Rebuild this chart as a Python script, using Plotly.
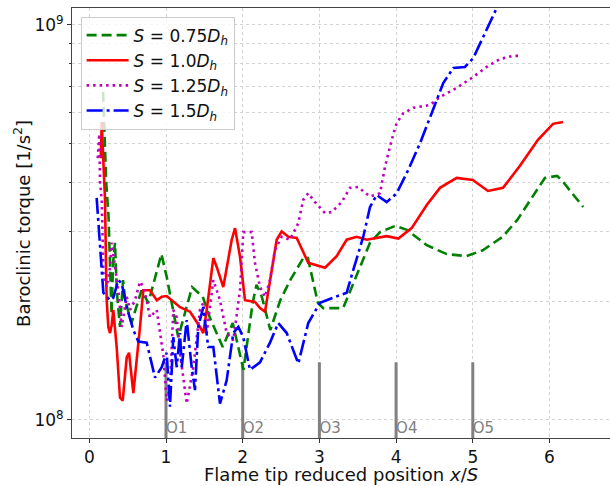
import plotly.graph_objects as go

# ---------------- data ----------------
# S = 0.75 D_h
x_075 = [0.18, 0.22, 0.25, 0.27, 0.29, 0.31, 0.335, 0.36, 0.38, 0.40, 0.44, 0.47, 0.55, 0.68, 0.77,
         0.94, 1.01, 1.12, 1.16, 1.34, 1.48, 1.57, 1.74, 1.87, 2.01, 2.13, 2.18, 2.25, 2.36, 2.49,
         2.62, 2.79, 2.85, 2.98, 3.05, 3.31, 3.46, 3.66, 3.79, 3.99, 4.14, 4.40, 4.66, 4.92, 5.13,
         5.39, 5.58, 5.75, 5.94, 6.10, 6.18, 6.44]
y_075 = [6.77e8, 4.0e8, 3.3e8, 2.3e8, 1.85e8, 2.5e8, 2.81e8, 2.1e8, 1.93e8, 1.72e8, 2.26e8, 2.0e8,
         1.76e8, 2.13e8, 1.98e8, 2.63e8, 2.3e8, 1.76e8, 1.62e8, 2.17e8, 2.05e8, 1.82e8, 1.53e8,
         1.76e8, 1.34e8, 1.98e8, 2.2e8, 2.05e8, 1.69e8, 2.01e8, 2.26e8, 2.57e8, 2.57e8, 1.98e8,
         1.92e8, 1.92e8, 2.26e8, 2.81e8, 2.99e8, 3.10e8, 3.03e8, 2.77e8, 2.63e8, 2.60e8, 2.69e8,
         2.91e8, 3.21e8, 3.61e8, 4.10e8, 4.15e8, 4.0e8, 3.46e8]

# S = 1.0 D_h
x_100 = [0.15, 0.162, 0.19, 0.205, 0.218, 0.227, 0.248, 0.27, 0.292, 0.313, 0.357, 0.40, 0.435,
         0.488, 0.518, 0.574, 0.661, 0.704, 0.79, 0.88, 0.944, 1.009, 1.183, 1.313, 1.443, 1.486,
         1.531, 1.617, 1.661, 1.747, 1.857, 1.90, 1.965, 2.03, 2.16, 2.226, 2.291, 2.443, 2.508,
         2.595, 2.704, 2.855, 3.073, 3.225, 3.356, 3.486, 3.617, 3.747, 3.877, 4.029, 4.203, 4.40,
         4.572, 4.79, 5.0, 5.198, 5.394, 5.615, 5.85, 6.046, 6.176]
y_100 = [4.6e8, 5.68e8, 4.2e8, 3.61e8, 2.44e8, 2.01e8, 1.72e8, 1.66e8, 1.74e8, 1.90e8, 1.53e8,
         1.14e8, 1.12e8, 1.44e8, 1.48e8, 1.17e8, 1.72e8, 2.13e8, 2.13e8, 2.01e8, 2.05e8, 2.06e8,
         1.93e8, 1.88e8, 1.72e8, 1.66e8, 1.90e8, 2.57e8, 2.44e8, 2.17e8, 2.86e8, 3.06e8, 2.59e8,
         2.01e8, 1.99e8, 1.92e8, 1.88e8, 2.86e8, 3.0e8, 2.91e8, 2.89e8, 2.50e8, 2.43e8, 2.60e8,
         2.86e8, 2.91e8, 2.86e8, 2.89e8, 2.92e8, 2.88e8, 3.06e8, 3.50e8, 3.87e8, 4.10e8, 4.05e8,
         3.80e8, 3.87e8, 4.40e8, 5.12e8, 5.62e8, 5.68e8]

# S = 1.25 D_h
x_125 = [0.11, 0.13, 0.14, 0.162, 0.175, 0.183, 0.227, 0.27, 0.292, 0.335, 0.378, 0.422, 0.488,
         0.531, 0.596, 0.661, 0.704, 0.748, 0.79, 0.879, 0.922, 0.965, 1.009, 1.052, 1.095, 1.14,
         1.183, 1.27, 1.356, 1.443, 1.486, 1.531, 1.617, 1.704, 1.791, 1.877, 1.965, 2.008, 2.052,
         2.117, 2.16, 2.226, 2.291, 2.356, 2.42, 2.508, 2.617, 2.725, 2.79, 2.855, 2.943, 3.073,
         3.16, 3.291, 3.399, 3.503, 3.66, 3.79, 3.855, 3.943, 4.008, 4.094, 4.224, 4.442, 4.572,
         4.79, 5.003, 5.181, 5.355, 5.524, 5.615]
y_125 = [4.6e8, 5.3e8, 4.0e8, 3.61e8, 2.81e8, 2.36e8, 2.17e8, 2.44e8, 2.81e8, 2.44e8, 2.13e8,
         1.72e8, 2.05e8, 1.90e8, 2.01e8, 2.24e8, 2.17e8, 2.01e8, 1.82e8, 1.90e8, 1.66e8, 1.46e8,
         1.12e8, 1.21e8, 1.90e8, 1.82e8, 1.48e8, 1.10e8, 1.36e8, 1.90e8, 1.98e8, 1.66e8, 2.26e8,
         2.01e8, 1.66e8, 1.59e8, 2.13e8, 2.99e8, 2.99e8, 2.99e8, 2.50e8, 2.17e8, 2.05e8, 2.26e8,
         2.69e8, 2.91e8, 2.86e8, 3.15e8, 3.61e8, 3.75e8, 3.56e8, 3.34e8, 3.36e8, 3.56e8, 3.87e8,
         3.89e8, 3.68e8, 3.75e8, 4.37e8, 5.12e8, 5.65e8, 5.98e8, 6.17e8, 6.27e8, 6.57e8, 6.93e8,
         7.38e8, 7.83e8, 8.2e8, 8.35e8, 8.35e8]

# S = 1.5 D_h
x_150 = [0.096, 0.162, 0.183, 0.27, 0.313, 0.378, 0.422, 0.488, 0.574, 0.639, 0.748, 0.857, 0.944,
         1.009, 1.052, 1.095, 1.14, 1.183, 1.205, 1.27, 1.335, 1.378, 1.421, 1.486, 1.551, 1.617,
         1.704, 1.791, 1.877, 1.943, 2.008, 2.095, 2.226, 2.356, 2.464, 2.574, 2.725, 2.855, 3.008,
         3.181, 3.356, 3.442, 3.572, 3.66, 3.747, 3.877, 4.008, 4.159, 4.312, 4.464, 4.615, 4.746,
         4.898, 5.007, 5.137, 5.312, 5.4]
y_150 = [3.65e8, 2.50e8, 2.10e8, 2.01e8, 2.04e8, 2.26e8, 2.22e8, 1.93e8, 1.69e8, 1.58e8, 1.57e8,
         1.28e8, 1.36e8, 1.48e8, 1.08e8, 1.62e8, 1.36e8, 1.66e8, 1.36e8, 1.79e8, 1.36e8, 1.19e8,
         1.72e8, 1.93e8, 1.53e8, 1.53e8, 1.10e8, 1.26e8, 1.66e8, 1.72e8, 1.62e8, 1.34e8, 1.40e8,
         1.57e8, 1.76e8, 1.66e8, 1.39e8, 1.76e8, 1.98e8, 2.04e8, 2.10e8, 2.40e8, 2.91e8, 3.46e8,
         3.71e8, 3.56e8, 3.75e8, 4.30e8, 5.02e8, 5.98e8, 7.13e8, 7.78e8, 7.83e8, 8.25e8, 9.33e8,
         1.104e9, 1.25e9]

# orifice markers
orifice_x = [1, 2, 3, 4, 5]
orifice_labels = ["O1", "O2", "O3", "O4", "O5"]
bar_top = 1.4e8
bar_bottom = 8.0e7
label_y = 9.5e7

FONT = "DejaVu Sans, Liberation Sans, sans-serif"

fig = go.Figure()

# orifice bars and labels
for xv, lab in zip(orifice_x, orifice_labels):
    fig.add_trace(go.Scatter(x=[xv, xv], y=[bar_top, bar_bottom], mode="lines",
                             line=dict(color="#808080", width=3), showlegend=False,
                             hoverinfo="skip"))
fig.add_trace(go.Scatter(x=orifice_x, y=[label_y] * len(orifice_x), mode="text",
                         text=orifice_labels, textposition="middle right",
                         textfont=dict(family=FONT, size=15, color="#808080"),
                         showlegend=False, hoverinfo="skip"))

series = [
    (x_075, y_075, "<i>S</i> = 0.75<i>D<sub>h</sub></i>", "#008000", "10px,5px"),
    (x_100, y_100, "<i>S</i> = 1.0<i>D<sub>h</sub></i>", "#ff0000", "solid"),
    (x_125, y_125, "<i>S</i> = 1.25<i>D<sub>h</sub></i>", "#bf00bf", "2.5px,4px"),
    (x_150, y_150, "<i>S</i> = 1.5<i>D<sub>h</sub></i>", "#0000ff", "16px,4px,3px,4px"),
]
for xs, ys, name, col, dash in series:
    fig.add_trace(go.Scatter(x=xs, y=ys, mode="lines", name=name,
                             line=dict(color=col, width=2.6, dash=dash)))

grid = dict(showgrid=True, gridcolor="#d2d2d2", griddash="dot", gridwidth=1)

fig.update_xaxes(
    range=[-0.2256, 6.789], tickvals=[0, 1, 2, 3, 4, 5, 6],
    ticks="outside", ticklen=4, tickcolor="#333",
    showline=True, mirror=True, linecolor="#444", linewidth=1,
    tickfont=dict(family=FONT, size=17, color="#111"),
    zeroline=False, **grid)

fig.update_yaxes(
    type="log", range=[7.9544, 9.043],
    tickvals=[1e8, 1e9], ticktext=["10<sup>8</sup>", "10<sup>9</sup>"],
    ticks="outside", ticklen=4, tickcolor="#333",
    showline=True, mirror=True, linecolor="#444", linewidth=1,
    tickfont=dict(family=FONT, size=17, color="#111"),
    minor=dict(tickvals=[2e8, 3e8, 4e8, 5e8, 6e8, 7e8, 8e8, 9e8], ticks="outside",
               ticklen=2, tickcolor="#333", showgrid=True, gridcolor="#d2d2d2",
               griddash="dot"),
    zeroline=False, **grid)

fig.update_layout(
    width=610, height=486,
    margin=dict(l=72, r=0, t=8, b=48),
    paper_bgcolor="white", plot_bgcolor="white",
    font=dict(family=FONT, size=17, color="#111"),
    legend=dict(x=0.016, y=0.98, xanchor="left", yanchor="top",
                bgcolor="rgba(255,255,255,0.8)", bordercolor="#cccccc", borderwidth=1,
                itemwidth=42,
                font=dict(family=FONT, size=17, color="#111"), tracegroupgap=0),
    showlegend=True,
    annotations=[
        dict(text="Flame tip reduced position <i>x</i>/<i>S</i>", xref="paper", yref="paper",
             x=0.5, y=-0.086, xanchor="center", yanchor="middle", showarrow=False,
             borderpad=0, font=dict(family=FONT, size=18, color="#111")),
        dict(text="Baroclinic torque [1/s<sup>2</sup>]", xref="paper", yref="paper",
             x=-0.093, y=0.5, xanchor="center", yanchor="middle", textangle=-90,
             showarrow=False, font=dict(family=FONT, size=18, color="#111")),
    ],
)

fig.write_html("out.html")
